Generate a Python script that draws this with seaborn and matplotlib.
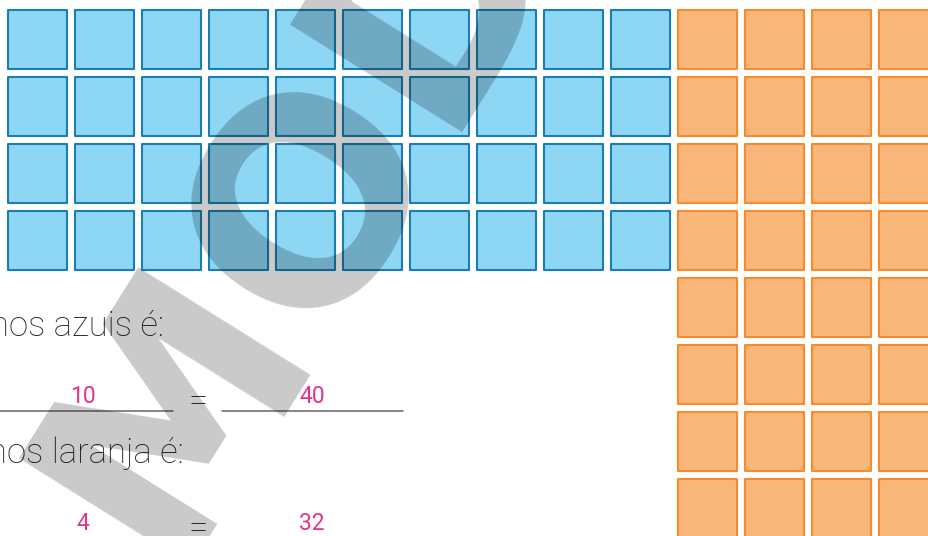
import numpy as np
import pandas as pd
import matplotlib
matplotlib.use("Agg")
import matplotlib.pyplot as plt
import seaborn as sns

# grid sizes (columns x rows)
blue_cols, blue_rows = 10, 4
orange_cols, orange_rows = 4, 8

# fraction texts
labels = ["nos azuis é:", "nos laranja é:"]
numerators = ["10", "4"]
denominators = ["40", "32"]

blue_fill, blue_edge = "#8dd7f5", "#1a7fae"
orange_fill, orange_edge = "#f9b67b", "#f68a2c"
pink = "#e6328f"
ink = "#2a2627"

W, H = 929, 536
pitch = 67.0          # pixel distance between squares
x0, y0 = 37.5, 38.5   # centre of first square
side_px = 59          # square path size (edge adds ~2 px)


def cells(ncols, nrows, col_offset=0):
    c, r = np.meshgrid(np.arange(ncols) + col_offset, np.arange(nrows))
    return pd.DataFrame({"x": x0 + pitch * c.ravel(), "y": y0 + pitch * r.ravel()})


df_blue = cells(blue_cols, blue_rows)
df_orange = cells(orange_cols, orange_rows, col_offset=blue_cols)

sns.set_style("white")
plt.rcParams["font.family"] = ["Roboto", "DejaVu Sans"]

fig = plt.figure(figsize=(W / 100, H / 100), dpi=100)
ax = fig.add_axes([0, 0, 1, 1])

msize = (side_px * 0.72) ** 2
sns.scatterplot(data=df_blue, x="x", y="y", marker="s", s=msize, color=blue_fill,
                edgecolor=blue_edge, linewidth=1.5, ax=ax, legend=False, zorder=2)
sns.scatterplot(data=df_orange, x="x", y="y", marker="s", s=msize, color=orange_fill,
                edgecolor=orange_edge, linewidth=1.5, ax=ax, legend=False, zorder=2)

# text lines
base_y = [336, 463]
for i, (lab, num, den) in enumerate(zip(labels, numerators, denominators)):
    ax.text([164, 184][i], base_y[i], lab, ha="right", va="baseline",
            fontsize=25, fontweight="light", color=ink, zorder=3)
    yl = 411 + i * 127
    ax.text(83, yl - 8, num, ha="center", va="baseline", fontsize=16.5, color=pink, zorder=3)
    ax.text(312, yl - 8, den, ha="center", va="baseline", fontsize=16.5, color=pink, zorder=3)
    ax.text(198, yl, "=", ha="center", va="baseline", fontsize=25,
            fontweight="light", color=ink, zorder=3)
    if i == 0:
        ax.plot([0, 173], [yl, yl], color="#666666", lw=1.1, zorder=3)
        ax.plot([222, 403], [yl, yl], color="#666666", lw=1.1, zorder=3)

# watermark
ax.text(166, 566, "MODELO", rotation=58, rotation_mode="anchor", ha="left",
        va="baseline", fontsize=200, fontweight="bold", family="DejaVu Sans",
        color="black", alpha=0.21, zorder=10)

ax.set_xlim(0, W)
ax.set_ylim(H, 0)
ax.axis("off")

fig.savefig("out.png", dpi=100)
